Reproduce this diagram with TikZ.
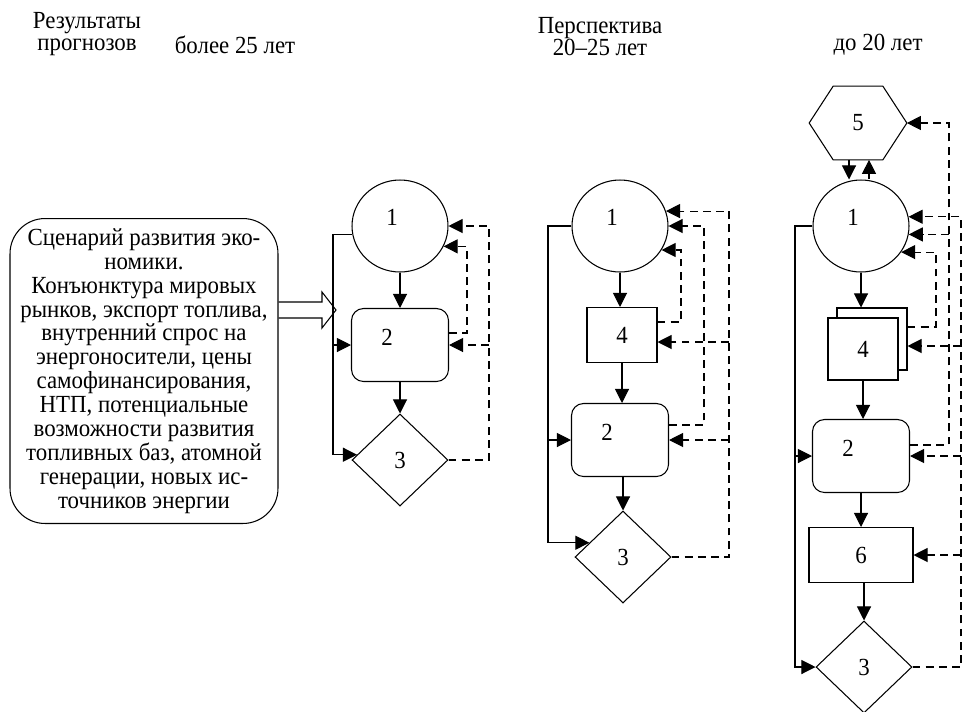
\documentclass[tikz,border=0pt]{standalone}
\usepackage{fontspec}
\setmainfont{Liberation Serif}[FakeStretch=0.93]
\usetikzlibrary{arrows.meta,shapes.geometric}

\tikzset{
  arr/.style={-{Triangle[length=8pt,width=8pt]}, line width=0.6pt},
  fb/.style={arr, dash pattern=on 4.5pt off 3pt},
  oval/.style={ellipse, draw, line width=0.6pt, minimum width=1.92cm, minimum height=1.84cm, inner sep=0pt,
    label={[xshift=-0.16cm, yshift=0.18cm]center:#1}},
  rbox/.style={rectangle, draw, line width=0.6pt, rounded corners=0.24cm, minimum width=1.94cm, minimum height=1.46cm,
    label={[xshift=-0.26cm, yshift=0.16cm]center:#1}},
  sbox/.style={rectangle, draw, line width=0.6pt, fill=white, minimum width=1.4cm, minimum height=1.1cm},
  cond/.style={diamond, draw, line width=0.6pt, minimum width=1.92cm, minimum height=1.84cm, inner sep=0pt},
  head/.style={align=center, font=\fontsize{14}{12.5}\selectfont}
}

\begin{document}
\begin{tikzpicture}[x=0.02cm, y=-0.02cm, font=\fontsize{14}{14}\selectfont]
  \useasboundingbox (0,0) rectangle (963,711);

  % headings
  \node[head] (t0) at (87,34) {Результаты\\прогнозов};
  \node[head] (t1) at (235,45) {более 25 лет};
  \node[head] (t2) at (600,37) {Перспектива\\20–25 лет};
  \node[head] (t3) at (878,45) {до 20 лет};

  % input
  \node[draw, line width=0.6pt, rounded corners=0.7cm, minimum width=5.36cm, minimum height=6.1cm,
        align=center, inner sep=0pt, font=\fontsize{14}{13.6}\selectfont] (scen) at (144,371)
    {Сценарий развития эко-\\номики.\\Конъюнктура мировых\\рынков, экспорт топлива,\\внутренний спрос на\\энергоносители, цены\\самофинансирования,\\НТП, потенциальные\\возможности развития\\топливных баз, атомной\\генерации, новых ис-\\точников энергии};
  \draw[line width=0.6pt] (scen.east |- 0,302) -- (322,302) -- (322,292) -- (336,310)
    -- (322,328) -- (322,318) -- (scen.east |- 0,318);

  % more than 25 years
  \node[oval=1] (c11) at (400,226) {};
  \node[rbox=2] (b12) at (400,345) {};
  \node[cond] (d13) at (400,460) {3};
  \draw[arr] (c11) -- (b12);
  \draw[arr] (b12) -- (d13);
  \draw[arr] (c11.190) -- (333,0 |- c11.190) -- (333,0 |- d13.173) -- (d13.173);
  \draw[arr] (333,0 |- b12.west) -- (b12.west);
  \draw[fb] (b12.east |- 0,333) -- (467,333) |- (c11.-25);
  \draw[fb] (d13.east) -- (489,0 |- d13.east) |- (c11.east);
  \draw[fb] (489,0 |- b12.east) -- (b12.east);

  % 20-25 years
  \node[oval=1] (c21) at (620,226) {};
  \node[sbox] (b24) at (622,335) {4};
  \node[rbox=2] (b22) at (620,440) {};
  \node[cond] (d23) at (623,557) {3};
  \draw[arr] (c21) -- (c21 |- b24.north);
  \draw[arr] (b24) -- (b24 |- b22.north);
  \draw[arr] (d23 |- b22.south) -- (d23);
  \draw[arr] (c21.west) -- (548,0 |- c21.west) -- (548,0 |- d23.157) -- (d23.157);
  \draw[arr] (548,0 |- b22.west) -- (b22.west);
  \draw[fb] (b24.east |- 0,322) -- (681,322) |- (c21.-30);
  \draw[fb] (b22.east |- 0,425) -- (704,425) |- (c21.east);
  \draw[fb] (d23.east) -- (729,0 |- d23.east) |- (c21.18);
  \draw[fb] (729,0 |- b22.east) -- (b22.east);
  \draw[fb] (729,342) -- (b24.east |- 0,342);

  % up to 20 years
  \node[minimum width=1.94cm, minimum height=1.46cm] (h5) at (858,123) {5};
  \draw[line width=0.6pt] (h5.west) -- ([xshift=0.48cm]h5.north west) -- ([xshift=-0.48cm]h5.north east)
    -- (h5.east) -- ([xshift=-0.48cm]h5.south east) -- ([xshift=0.48cm]h5.south west) -- cycle;
  \node[oval=1] (c31) at (861,226) {};
  \node[sbox, minimum height=1.24cm] (b34b) at (872,339) {};
  \node[sbox, minimum height=1.24cm] (b34) at (863,349) {4};
  \node[rbox=2] (b32) at (861,456) {};
  \node[sbox, minimum width=2.08cm] (b36) at (861,555) {6};
  \node[cond] (d33) at (864,667) {3};
  \draw[arr] (849,0 |- h5.south) -- (849,0 |- c31.north);
  \draw[arr] (869,0 |- c31.north) -- (869,0 |- h5.south);
  \draw[arr] (c31) -- (c31 |- b34b.north);
  \draw[arr] (b34) -- (b34 |- b32.north);
  \draw[arr] (b32) -- (b32 |- b36.north);
  \draw[arr] (d33 |- b36.south) -- (d33);
  \draw[arr] (c31.west) -- (795,0 |- c31.west) -- (795,0 |- d33.west) -- (d33.west);
  \draw[arr] (795,0 |- b32.west) -- (b32.west);
  \draw[fb] (b34b.east |- 0,327) -- (936,327) |- (c31.-33);
  \draw[fb] (b32.east |- 0,445) -- (949,445) |- (h5.east);
  \draw[fb] (949,0 |- c31.-10) -- (c31.-10);
  \draw[fb] (d33.east) -- (961,0 |- d33.east) |- (c31.11);
  \draw[fb] (961,346) -- (b34b.east |- 0,346);
  \draw[fb] (961,0 |- b32.east) -- (b32.east);
  \draw[fb] (961,0 |- b36.east) -- (b36.east);
\end{tikzpicture}
\end{document}
